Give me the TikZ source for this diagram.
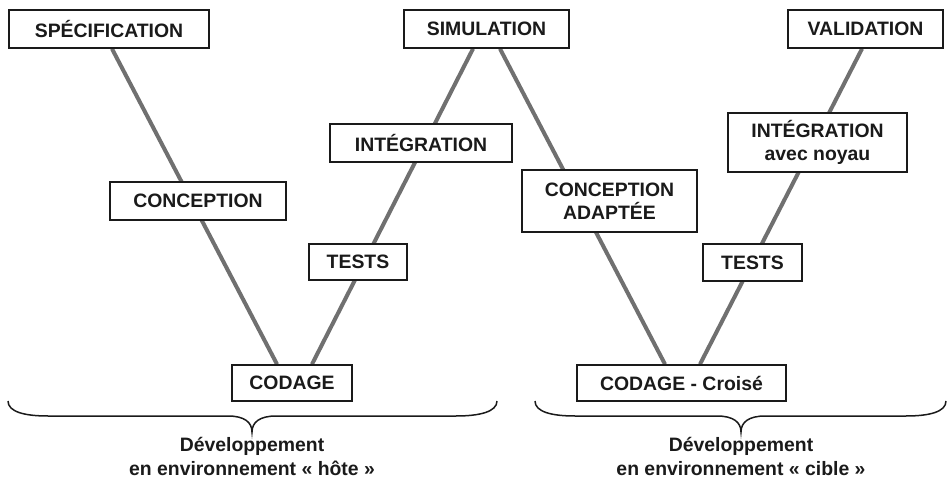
\documentclass[tikz,border=0pt]{standalone}
\usepackage{fontspec}
\setmainfont{Liberation Sans}
\usetikzlibrary{calc,backgrounds}
\definecolor{vline}{HTML}{707070}
\definecolor{ink}{HTML}{1A1A1A}

\begin{document}
\begin{tikzpicture}[x=1pt,y=-1pt,
  phase/.style={draw=ink, line width=1.6pt, fill=white, text=ink,
    font=\fontsize{19.4}{23.5}\selectfont\bfseries, align=center,
    inner sep=0pt, minimum height=38pt},
  vleg/.style={draw=vline, line width=4pt},
  bracket/.style={draw=ink, line width=1.5pt},
  caption/.style={text=ink, font=\fontsize{19.4}{24}\selectfont\bfseries,
    align=center, inner sep=0pt}]
\useasboundingbox (0,0) rectangle (948,481);

% phases of the two V cycles
\node[phase, minimum width=200pt] (spec) at (109,29) {SPÉCIFICATION};
\node[phase, minimum width=165pt] (simu) at (486.5,29) {SIMULATION};
\node[phase, minimum width=155pt] (valid) at (865.5,29) {VALIDATION};
\node[phase, minimum width=182pt] (integ) at (421,143) {INTÉGRATION};
\node[phase, minimum width=176pt] (concep) at (198,201) {CONCEPTION};
\node[phase, minimum width=98pt, minimum height=36pt] (testsA) at (358,262) {TESTS};
\node[phase, minimum width=120pt, minimum height=36pt] (codage) at (292,383) {CODAGE};
\node[phase, minimum width=175pt, minimum height=62pt] (adapt) at (609.5,201) {CONCEPTION\\ADAPTÉE};
\node[phase, minimum width=179pt, minimum height=59pt] (integN) at (817.5,142.5) {INTÉGRATION\\avec noyau};
\node[phase, minimum width=99pt, minimum height=37pt] (testsB) at (752.5,262.5) {TESTS};
\node[phase, minimum width=209pt, minimum height=36pt] (codcr) at (681.5,383) {CODAGE - Croisé};

% the V legs, passing behind the intermediate phases
\begin{scope}[on background layer]
  \draw[vleg] ($(spec.south)+(3,0)$) -- ($(codage.north)+(-15,0)$);
  \draw[vleg] ($(codage.north)+(20,0)$) -- ($(simu.south)+(-13.5,0)$);
  \draw[vleg] ($(simu.south)+(13.5,0)$) -- ($(codcr.north)+(-16.5,0)$);
  \draw[vleg] ($(codcr.north)+(18.5,0)$) -- ($(valid.south)+(-3.5,0)$);
\end{scope}

% braces grouping each environment
\draw[bracket] (8,401) .. controls (8,412) and (25,416) .. (48,416) -- (228,416)
  .. controls (244,416) and (252,422) .. (252,432)
  .. controls (252,422) and (260,416) .. (276,416) -- (456,416)
  .. controls (479,416) and (497,412) .. (497,401);
\draw[bracket] (535,401) .. controls (535,412) and (552,416) .. (575,416) -- (717,416)
  .. controls (733,416) and (741,422) .. (741,432)
  .. controls (741,422) and (749,416) .. (765,416) -- (906,416)
  .. controls (929,416) and (946,412) .. (946,401);

% captions (base anchor sits on the last line)
\node[caption, anchor=base] (hote) at (252,475) {Développement\\en environnement « hôte »};
\node[caption, anchor=base] (cible) at (741,475) {Développement\\en environnement « cible »};
\end{tikzpicture}
\end{document}
